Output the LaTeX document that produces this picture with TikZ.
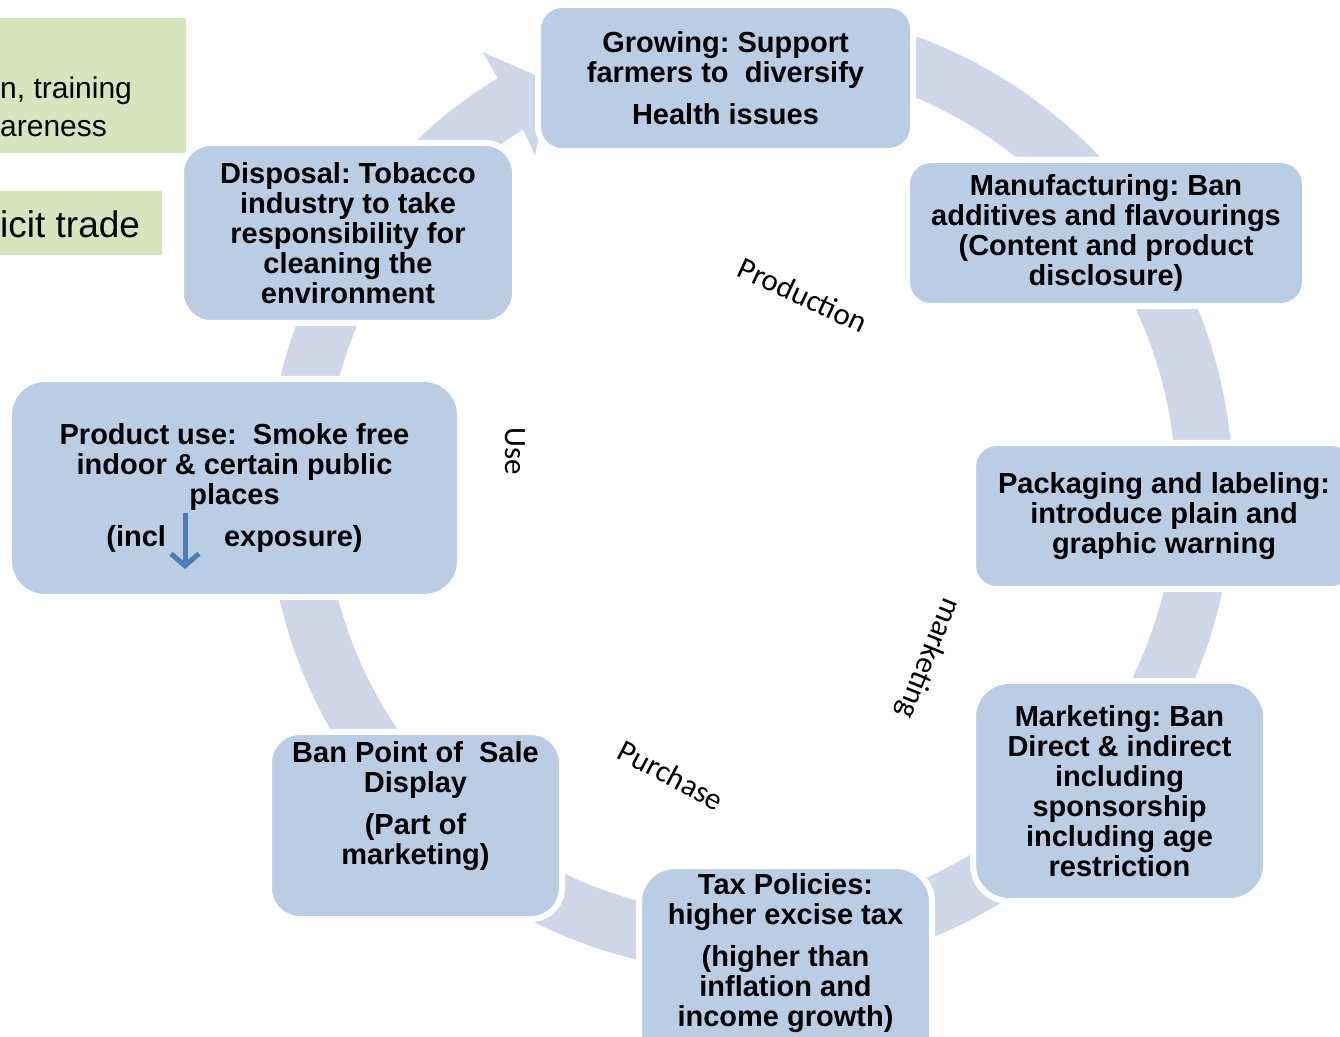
\documentclass[tikz,border=0pt]{standalone}
\usepackage{fontspec}
\usepackage{tikz}
\usetikzlibrary{arrows.meta}
\usetikzlibrary{positioning}
\newfontfamily\stagefont{Liberation Sans}
\newfontfamily\phasefont{Carlito}
\definecolor{stage_blue}{RGB}{185,205,229}
\definecolor{ring_grey}{RGB}{207,214,232}
\definecolor{note_green}{RGB}{215,228,189}
\definecolor{arrow_blue}{RGB}{74,126,187}
\frenchspacing

\begin{document}
\begin{tikzpicture}[x=1pt, y=1pt, >={Stealth},
    stage/.style={rectangle, rounded corners=24pt, fill=stage_blue, draw=white, line width=6pt, align=center, inner sep=0pt, font=\stagefont\bfseries\fontsize{29}{30}\selectfont},
    stagetext/.style={align=center, inner sep=0pt, font=\stagefont\bfseries\fontsize{29}{30}\selectfont},
    phase/.style={inner sep=0pt, font=\phasefont\fontsize{31}{36}\selectfont},
    note/.style={rectangle, fill=note_green, inner sep=0pt},
    notetext/.style={anchor=west, align=left, inner sep=0pt, font=\stagefont}]
  \useasboundingbox (0,0) rectangle (1340,1036);
  \clip (0,0) rectangle (1340,1036);

  % the cycle ring with its head
  \begin{scope}[shift={(750,546)}]
    \fill[ring_grey] (95:483pt) arc[start angle=95, end angle=-238.5, radius=483pt]
      -- (-238.6:513pt) -- (-244:454pt) -- (-237.3:398pt) -- (-237.8:426pt)
      arc[start angle=-237.8, end angle=95, radius=426pt] -- cycle;
  \end{scope}

  \node[note, minimum width=190pt, minimum height=135pt] (edu) at (91,950.5) {};
  \node[notetext, font=\stagefont\fontsize{30}{38}\selectfont] (edu-text) at (0,929) {n, training\\areness};
  \node[note, minimum width=166pt, minimum height=64pt] (trade) at (79,813) {};
  \node[notetext, font=\stagefont\fontsize{37}{42}\selectfont] (trade-text) at (0,812) {icit trade};

  \node[stage, minimum width=375pt, minimum height=146pt] (grow) at (725.5,958) {Growing: Support\\farmers to\ \ diversify\\[12pt]Health issues};
  \node[stage, minimum width=398pt, minimum height=146pt] (make) at (1106,803) {Manufacturing: Ban\\additives and flavourings\\(Content and product\\disclosure)};
  \node[stage, minimum width=382pt, minimum height=146pt] (pack) at (1164,520) {Packaging and labeling:\\introduce plain and\\graphic warning};
  \node[stage, minimum width=293pt, minimum height=220pt, rounded corners=36pt] (market) at (1119.5,245) {Marketing: Ban\\Direct \& indirect\\including\\sponsorship\\including age\\restriction};
  \node[stage, minimum width=293pt, minimum height=220pt, rounded corners=36pt] (tax) at (785.5,60) {};
  \node[stagetext] (tax-text) at (785.5,83) {Tax Policies:\\higher excise tax\\[12pt](higher than\\inflation and\\income growth)};
  \node[stage, minimum width=293pt, minimum height=187pt, rounded corners=31pt] (ban) at (415.5,210.5) {};
  \node[stagetext] (ban-text) at (415.5,230) {Ban Point of\ \ Sale\\Display\\[12pt](Part of\\marketing)};
  \node[stage, minimum width=451pt, minimum height=218pt, rounded corners=36pt] (use) at (234.5,548) {Product use:\ \ Smoke free\\indoor \& certain public\\places\\[12pt](incl\hspace{58pt}exposure)};
  \node[stage, minimum width=334pt, minimum height=180pt, rounded corners=30pt] (dispose) at (348,803) {Disposal: Tobacco\\industry to take\\responsibility for\\cleaning the\\environment};

  \coordinate (shs-top) at (185,523);
  \coordinate (shs-tip) at (185,467);
  \draw[arrow_blue, line width=5pt, -{Straight Barb[length=12pt, width=28pt]}] (shs-top) -- (shs-tip);

  \node[phase, rotate=-25] (production) at (803,741) {Production};
  \node[phase, rotate=-90] (use-label) at (515,585) {Use};
  \node[phase, rotate=-112] (marketing) at (928,378) {marketing};
  \node[phase, rotate=-28] (purchase) at (671,261) {Purchase};
\end{tikzpicture}
\end{document}
